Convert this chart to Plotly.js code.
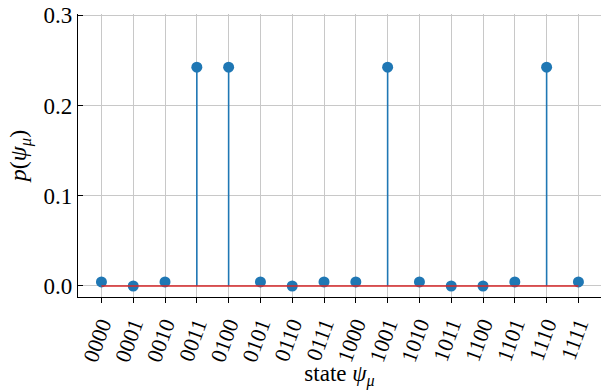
<!DOCTYPE html>
<html>
<head>
<meta charset="utf-8">
<script src="https://cdn.plot.ly/plotly-3.0.1.min.js"></script>
<style>
html,body{margin:0;padding:0;background:#fff;}
#chart{width:601px;height:390px;}
#chart svg text{font-family:'Liberation Serif' !important;}
</style>
</head>
<body>
<div id="chart"></div>
<script>
const states = ["0000","0001","0010","0011","0100","0101","0110","0111","1000","1001","1010","1011","1100","1101","1110","1111"];
const probs = [0.0045, 0.0, 0.0045, 0.2425, 0.2425, 0.0045, 0.0, 0.0045, 0.0045, 0.2425, 0.0045, 0.0, 0.0, 0.0045, 0.2425, 0.0045];
const yTicks = [0.0, 0.1, 0.2, 0.3];
const yTickText = ["0.0", "0.1", "0.2", "0.3"];

const idx = states.map((s, i) => i);
const stemX = [], stemY = [];
idx.forEach(i => { stemX.push(i, i, null); stemY.push(0, probs[i], null); });

const FONT = "Liberation Serif";
const traces = [
  {x: stemX, y: stemY, type: "scatter", mode: "lines", line: {color: "#1f77b4", width: 1.6}, hoverinfo: "skip"},
  {x: idx, y: probs, type: "scatter", mode: "markers", marker: {color: "#1f77b4", size: 11}},
  {x: [idx[0], idx[idx.length - 1]], y: [0, 0], type: "scatter", mode: "lines", line: {color: "#d62728", width: 1.6}}
];

const layout = {
  width: 601, height: 390,
  margin: {l: 78, r: 0, t: 14, b: 93},
  paper_bgcolor: "#fff", plot_bgcolor: "#fff",
  showlegend: false,
  font: {family: FONT, color: "#000", size: 22},
  xaxis: {
    range: [-0.737, 15.71],
    tickvals: idx, ticktext: states, tickangle: -70,
    tickfont: {size: 22},
    showgrid: true, gridcolor: "#c8c8c8", gridwidth: 1,
    zeroline: false, showline: true, linecolor: "#000", linewidth: 1.2,
    ticks: "outside", ticklen: 5, tickcolor: "#000", tickwidth: 1,
    title: {text: "state <i>ψ</i><sub><i>μ</i></sub>", font: {size: 23}, standoff: 2}
  },
  yaxis: {
    range: [-0.0122, 0.3015],
    tickvals: yTicks, ticktext: yTickText,
    tickfont: {size: 23},
    showgrid: true, gridcolor: "#c8c8c8", gridwidth: 1,
    zeroline: false, showline: true, linecolor: "#000", linewidth: 1.2,
    ticks: "inside", ticklen: 5, tickcolor: "#000", tickwidth: 1,
    title: {text: "<i>p</i>(<i>ψ</i><sub><i>μ</i></sub>)", font: {size: 24}, standoff: 10}
  }
};

Plotly.newPlot("chart", traces, layout, {displayModeBar: false, staticPlot: true});
</script>
</body>
</html>
